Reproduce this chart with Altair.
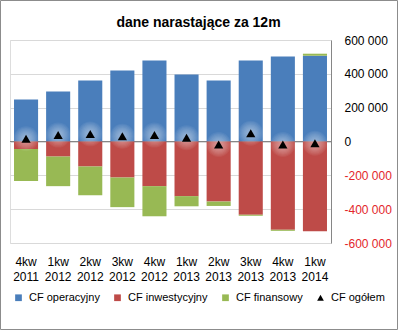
import altair as alt
import pandas as pd

quarters = ["4kw 2011", "1kw 2012", "2kw 2012", "3kw 2012", "4kw 2012",
            "1kw 2013", "2kw 2013", "3kw 2013", "4kw 2013", "1kw 2014"]
cf_operacyjny = [248000, 296000, 361000, 420000, 479000, 396000, 361000, 479000, 503000, 507000]
cf_inwestycyjny = [-45000, -89000, -148000, -213000, -264000, -323000, -355000, -433000, -522000, -530000]
cf_finansowy = [-189000, -175000, -170000, -175000, -178000, -60000, -26000, -6000, -6000, 12000]
cf_ogolem = [16000, 38000, 45000, 31000, 38000, 22000, -18000, 49000, -18000, -10000]

series_names = ["CF operacyjny", "CF inwestycyjny", "CF finansowy", "CF ogółem"]
series_colors = ["#4A7EBB", "#BE4B48", "#98B954", "#000000"]
series_shapes = ["square", "square", "square", "triangle-up"]
y_ticks = [-600000, -400000, -200000, 0, 200000, 400000, 600000]

rows = []
for i, q in enumerate(quarters):
    for k, vals in enumerate([cf_operacyjny, cf_inwestycyjny, cf_finansowy]):
        rows.append({"kw": q, "series": series_names[k], "value": vals[i], "ord": k})
bars_df = pd.DataFrame(rows)
tot_df = pd.DataFrame({"kw": quarters, "series": series_names[3], "value": cf_ogolem})
zero_df = pd.DataFrame({"value": [0]})
one_df = pd.DataFrame({"a": [0]})

FONT = "Liberation Sans"
W, H = 321, 203

x_enc = alt.X("kw:N", sort=quarters,
              scale=alt.Scale(paddingInner=0.25, paddingOuter=0.125),
              axis=alt.Axis(title=None, labelAngle=0, domain=False, ticks=False,
                            labelExpr="split(datum.label, ' ')", labelFontSize=12,
                            labelFont=FONT, labelPadding=13, labelLineHeight=15,
                            labelColor="#000000", grid=False))
y_scale = alt.Scale(domain=[-600000, 600000], nice=False, zero=False)
y_axis = alt.Axis(title=None, orient="right", values=y_ticks, grid=True,
                  gridColor="#D9D9D9", domainColor="#868686", ticks=False,
                  labelPadding=13, labelFontSize=12, labelFont=FONT,
                  labelExpr="(datum.value < 0 ? '-' : '') + replace(format(abs(datum.value), ','), ',', ' ')",
                  labelColor={"condition": {"test": "datum.value < 0", "value": "#E3262B"}, "value": "#000000"})

legend_props = dict(title=None, orient="none", legendX=3, legendY=252,
                    direction="horizontal", columns=4, columnPadding=12,
                    symbolSize=45, labelFontSize=11, labelFont=FONT,
                    labelColor="#000000", symbolStrokeWidth=0,
                    symbolOpacity=1, padding=0, labelOffset=5)
color_enc = alt.Color("series:N", scale=alt.Scale(domain=series_names, range=series_colors),
                      legend=alt.Legend(**legend_props))
shape_enc = alt.Shape("series:N", scale=alt.Scale(domain=series_names, range=series_shapes),
                      legend=alt.Legend(**legend_props))

zero_rule = alt.Chart(zero_df).mark_rule(color="#868686", strokeWidth=1).encode(
    y=alt.Y("value:Q", scale=y_scale, axis=y_axis)
)

bars = alt.Chart(bars_df).mark_bar().encode(
    x=x_enc,
    y=alt.Y("value:Q", scale=y_scale, axis=y_axis, stack="zero"),
    color=color_enc,
    order=alt.Order("ord:Q"),
)

glows = []
for sz in [620, 520, 420, 330, 250, 180, 120, 70]:
    glows.append(alt.Chart(tot_df).mark_circle(color="white", opacity=0.06, size=sz).encode(
        x=x_enc, y=alt.Y("value:Q", scale=y_scale, axis=y_axis)))

triangles = alt.Chart(tot_df).mark_point(filled=True, opacity=1, size=85).encode(
    x=x_enc,
    y=alt.Y("value:Q", scale=y_scale, axis=y_axis),
    color=color_enc,
    shape=shape_enc,
)

border = alt.Chart(one_df).mark_rect(fillOpacity=0, stroke="#8C8C8C", strokeWidth=1).encode(
    x=alt.value(-9.5), x2=alt.value(387.5), y=alt.value(-39.5), y2=alt.value(289.5)
)

chart = alt.layer(zero_rule, bars, *glows, triangles, border).properties(
    width=W, height=H,
    title=alt.TitleParams("dane narastające za 12m", font=FONT, fontSize=14,
                          fontWeight="bold", anchor="middle", dx=28, offset=-30,
                          color="#000000"),
    autosize=alt.AutoSizeParams(type="none"),
    padding={"left": 10, "top": 40, "right": 67, "bottom": 87},
).configure_view(stroke=None).configure(background="white")

chart.save("out.html", embed_options={"renderer": "svg", "actions": False})
